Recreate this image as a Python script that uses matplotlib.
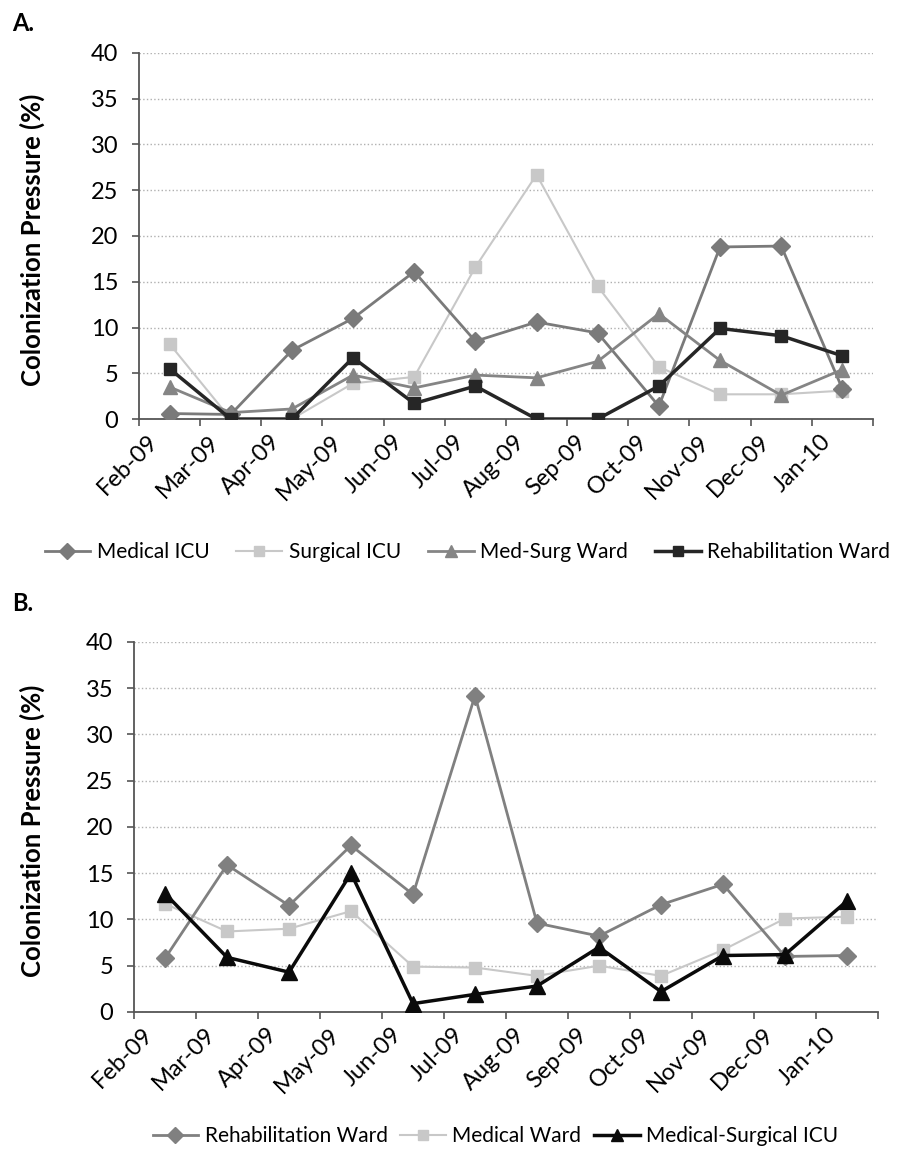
import matplotlib.pyplot as plt
import matplotlib.transforms as mtransforms
import numpy as np

plt.rcParams['font.family'] = ['Lato', 'DejaVu Sans']

# Data
months = ['Feb-09', 'Mar-09', 'Apr-09', 'May-09', 'Jun-09', 'Jul-09',
          'Aug-09', 'Sep-09', 'Oct-09', 'Nov-09', 'Dec-09', 'Jan-10']

# Panel A
medical_icu = [0.6, 0.5, 7.5, 11.0, 16.1, 8.5, 10.6, 9.4, 1.4, 18.8, 18.9, 3.3]
surgical_icu = [8.2, 0.0, 0.0, 3.9, 4.6, 16.6, 26.7, 14.5, 5.7, 2.7, 2.7, 3.1]
med_surg_ward = [3.5, 0.7, 1.1, 4.8, 3.4, 4.8, 4.5, 6.3, 11.5, 6.4, 2.6, 5.4]
rehab_ward_a = [5.5, 0.0, 0.0, 6.7, 1.7, 3.6, 0.0, 0.0, 3.6, 9.9, 9.1, 6.9]

# Panel B
rehab_ward_b = [5.8, 15.9, 11.5, 18.0, 12.7, 34.2, 9.6, 8.2, 11.6, 13.8, 6.0, 6.1]
medical_ward = [11.7, 8.7, 9.0, 10.9, 4.9, 4.8, 3.9, 5.0, 3.9, 6.7, 10.1, 10.3]
med_surg_icu = [12.8, 5.9, 4.3, 15.0, 0.9, 1.9, 2.8, 7.0, 2.2, 6.1, 6.2, 12.0]

x = np.arange(len(months)) + 0.5

fig = plt.figure(figsize=(9.02, 11.54), dpi=100)
axA = fig.add_axes([0.1541, 0.6369, 0.8137, 0.3172])
axB = fig.add_axes([0.1486, 0.1231, 0.8248, 0.3206])


def style_axis(ax, label_x):
    ax.set_xlim(0, len(months))
    ax.set_ylim(0, 40)
    ax.set_yticks(np.arange(0, 41, 5))
    ax.tick_params(axis='y', labelsize=17, length=5, width=1.2, color='#555555', pad=10)
    ax.yaxis.grid(True, linestyle=':', color='#b0b0b0', linewidth=1.0)
    ax.set_axisbelow(True)
    ax.set_xticks(np.arange(0, len(months) + 1))
    ax.set_xticklabels(months + [''], rotation=45, ha='right', va='center',
                       rotation_mode='anchor', fontsize=17)
    ax.tick_params(axis='x', length=5, width=1.2, color='#555555', pad=9)
    offset = mtransforms.ScaledTranslation(0.16, 0, fig.dpi_scale_trans)
    for lab in ax.get_xticklabels():
        lab.set_transform(lab.get_transform() + offset)
    for s in ['top', 'right']:
        ax.spines[s].set_visible(False)
    for s in ['left', 'bottom']:
        ax.spines[s].set_color('#555555')
        ax.spines[s].set_linewidth(1.3)
    ax.set_ylabel('Colonization Pressure (%)', fontsize=18.5, fontweight='bold')
    ax.yaxis.set_label_coords(label_x, 0.49)


# Panel A
axA.plot(x, medical_icu, color='#7a7a7a', lw=2, marker='D', ms=9, label='Medical ICU', zorder=3)
axA.plot(x, surgical_icu, color='#c8c8c8', lw=1.5, marker='s', ms=9, label='Surgical ICU', zorder=2)
axA.plot(x, med_surg_ward, color='#858585', lw=2, marker='^', ms=10, label='Med-Surg Ward', zorder=3)
axA.plot(x, rehab_ward_a, color='#262626', lw=2.5, marker='s', ms=9, label='Rehabilitation Ward', zorder=4)
style_axis(axA, -0.128)
axA.legend(loc='center', bbox_to_anchor=(0.518, 0.5217), bbox_transform=fig.transFigure,
           ncol=4, frameon=False, fontsize=15, handlelength=2.2, handletextpad=0.3,
           columnspacing=1.3, markerscale=0.85)

# Panel B
axB.plot(x, rehab_ward_b, color='#808080', lw=2, marker='D', ms=9, label='Rehabilitation Ward', zorder=3)
axB.plot(x, medical_ward, color='#c8c8c8', lw=1.5, marker='s', ms=9, label='Medical Ward', zorder=2)
axB.plot(x, med_surg_icu, color='#0a0a0a', lw=2.5, marker='^', ms=11, label='Medical-Surgical ICU', zorder=4)
style_axis(axB, -0.12)
axB.legend(loc='center', bbox_to_anchor=(0.549, 0.0156), bbox_transform=fig.transFigure,
           ncol=3, frameon=False, fontsize=15, handlelength=2.2, handletextpad=0.3,
           columnspacing=0.6, markerscale=0.85)

fig.text(0.013, 0.990, 'A.', fontsize=17, fontweight='bold', va='top')
fig.text(0.013, 0.487, 'B.', fontsize=17, fontweight='bold', va='top')

plt.savefig('out.png', dpi=100)
